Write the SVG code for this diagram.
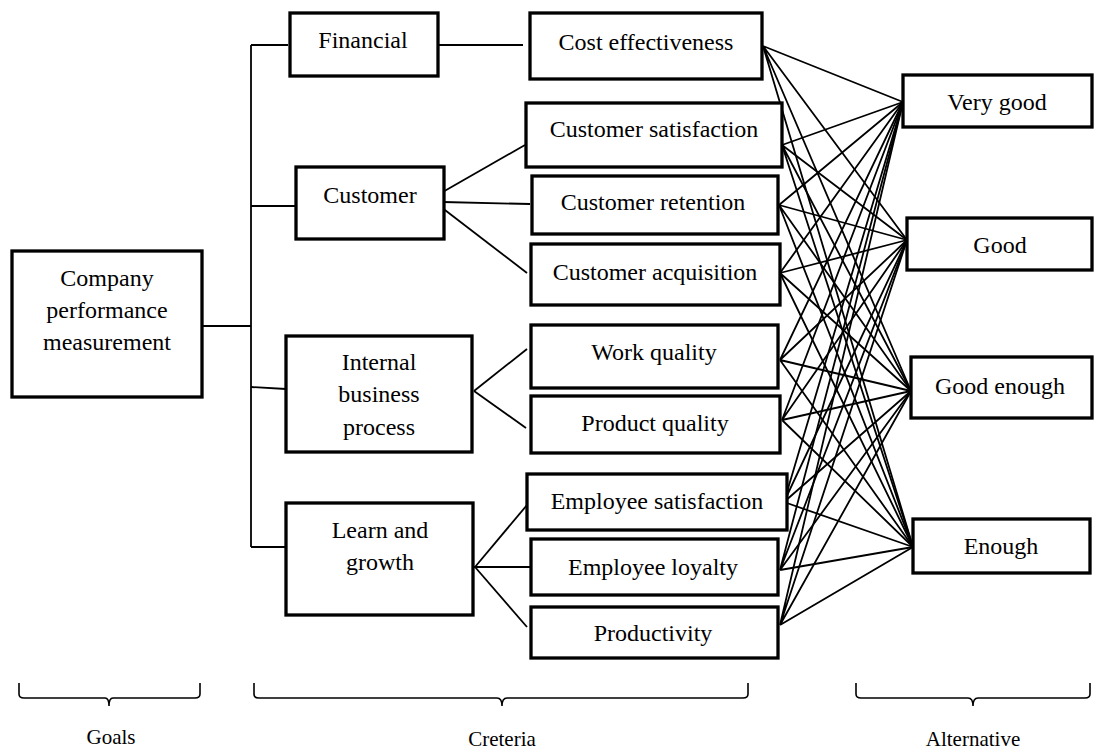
<svg xmlns="http://www.w3.org/2000/svg" width="1094" height="749" viewBox="0 0 1094 749">
<style>
.box{fill:#fff;stroke:#000;stroke-width:3.3}
.t{font-family:"Liberation Serif","Times New Roman",serif;font-size:24px;fill:#000;text-anchor:middle}
.lab{font-family:"Liberation Serif","Times New Roman",serif;font-size:21px;fill:#000;text-anchor:middle}
.c line,.c path{stroke:#000;stroke-width:1.8;fill:none}
.br{stroke:#000;stroke-width:1.6;fill:none}
</style>
<rect width="1094" height="749" fill="#fff"/>
<g class="c" id="connectors">
<line x1="251" y1="45" x2="251" y2="547"/>
<line x1="251" y1="45" x2="288" y2="45"/>
<line x1="251" y1="206" x2="296" y2="206"/>
<line x1="202" y1="326" x2="251" y2="326"/>
<line x1="251" y1="387" x2="286" y2="389"/>
<line x1="251" y1="547" x2="286" y2="547"/>
<line x1="438" y1="45" x2="523" y2="45"/>
<line x1="441" y1="193" x2="525" y2="145"/>
<line x1="443" y1="202" x2="530" y2="204"/>
<line x1="441" y1="207" x2="527" y2="273"/>
<line x1="474" y1="391" x2="527" y2="349"/>
<line x1="474" y1="391" x2="526" y2="428"/>
<line x1="475" y1="567" x2="527" y2="505"/>
<line x1="472" y1="567" x2="530" y2="567"/>
<line x1="475" y1="567" x2="527" y2="627"/>
<path d="M763,46 L903,102 M763,46 L907,240 M763,46 L911,391 M763,46 L913,547"/>
<path d="M782,145 L903,102 M782,145 L907,240 M782,145 L911,391 M782,145 L913,547"/>
<path d="M779,205 L903,102 M779,205 L907,240 M779,205 L911,391 M779,205 L913,547"/>
<path d="M780,273 L903,102 M780,273 L907,240 M780,273 L911,391 M780,273 L913,547"/>
<path d="M780,360 L903,102 M780,360 L907,240 M780,360 L911,391 M780,360 L913,547"/>
<path d="M782,420 L903,102 M782,420 L907,240 M782,420 L911,391 M782,420 L913,547"/>
<path d="M784,502 L903,102 M784,502 L907,240 M784,502 L911,391 M784,502 L913,547"/>
<path d="M780,570 L903,102 M780,570 L907,240 M780,570 L911,391 M780,570 L913,547"/>
<path d="M780,625 L903,102 M780,625 L907,240 M780,625 L911,391 M780,625 L913,547"/>
</g>
<g id="company"><rect class="box" x="12" y="251" width="190" height="146"/>
<text class="t" x="107" y="286">Company</text><text class="t" x="107" y="318">performance</text><text class="t" x="107" y="350">measurement</text></g>
<g id="financial"><rect class="box" x="290" y="13" width="148" height="63"/><text class="t" x="363" y="48">Financial</text></g>
<g id="customer"><rect class="box" x="296" y="167" width="148" height="72"/><text class="t" x="370" y="203">Customer</text></g>
<g id="internal"><rect class="box" x="286" y="336" width="186" height="116"/>
<text class="t" x="379" y="370">Internal</text><text class="t" x="379" y="402">business</text><text class="t" x="379" y="435">process</text></g>
<g id="learn"><rect class="box" x="286" y="503" width="187" height="112"/>
<text class="t" x="380" y="538">Learn and</text><text class="t" x="380" y="570">growth</text></g>
<g id="cost"><rect class="box" x="530" y="13" width="232" height="66"/><text class="t" x="646" y="50">Cost effectiveness</text></g>
<g id="custsat"><rect class="box" x="526" y="103" width="256" height="64"/><text class="t" x="654" y="137">Customer satisfaction</text></g>
<g id="custret"><rect class="box" x="532" y="176" width="246" height="58"/><text class="t" x="653" y="210">Customer retention</text></g>
<g id="custacq"><rect class="box" x="531" y="244" width="249" height="61"/><text class="t" x="655" y="280">Customer acquisition</text></g>
<g id="workq"><rect class="box" x="531" y="325" width="247" height="63"/><text class="t" x="654" y="360">Work quality</text></g>
<g id="prodq"><rect class="box" x="531" y="396" width="249" height="57"/><text class="t" x="655" y="431">Product quality</text></g>
<g id="empsat"><rect class="box" x="527" y="474" width="260" height="56"/><text class="t" x="657" y="509">Employee satisfaction</text></g>
<g id="employ"><rect class="box" x="531" y="539" width="247" height="56"/><text class="t" x="653" y="575">Employee loyalty</text></g>
<g id="productivity"><rect class="box" x="531" y="607" width="247" height="51"/><text class="t" x="653" y="641">Productivity</text></g>
<g id="verygood"><rect class="box" x="903" y="75" width="189" height="52"/><text class="t" x="997" y="110">Very good</text></g>
<g id="good"><rect class="box" x="907" y="218" width="185" height="52"/><text class="t" x="1000" y="253">Good</text></g>
<g id="goodenough"><rect class="box" x="911" y="357" width="181" height="61"/><text class="t" x="1000" y="394">Good enough</text></g>
<g id="enough"><rect class="box" x="913" y="519" width="177" height="54"/><text class="t" x="1001" y="554">Enough</text></g>
<g id="braces">
<path class="br" d="M19,683 L19,694 Q19,698 24,698 L105,698 Q109,698 109,706 Q109,698 113,698 L195,698 Q200,698 200,694 L200,683"/>
<path class="br" d="M254,683 L254,694 Q254,698 259,698 L497,698 Q502,698 502,706 Q502,698 507,698 L743,698 Q748,698 748,694 L748,683"/>
<path class="br" d="M856,683 L856,694 Q856,698 861,698 L968,698 Q973,698 973,706 Q973,698 978,698 L1085,698 Q1090,698 1090,694 L1090,683"/>
</g>
<text class="lab" x="111" y="744">Goals</text>
<text class="lab" x="502" y="746">Creteria</text>
<text class="lab" x="973" y="746">Alternative</text>
</svg>
